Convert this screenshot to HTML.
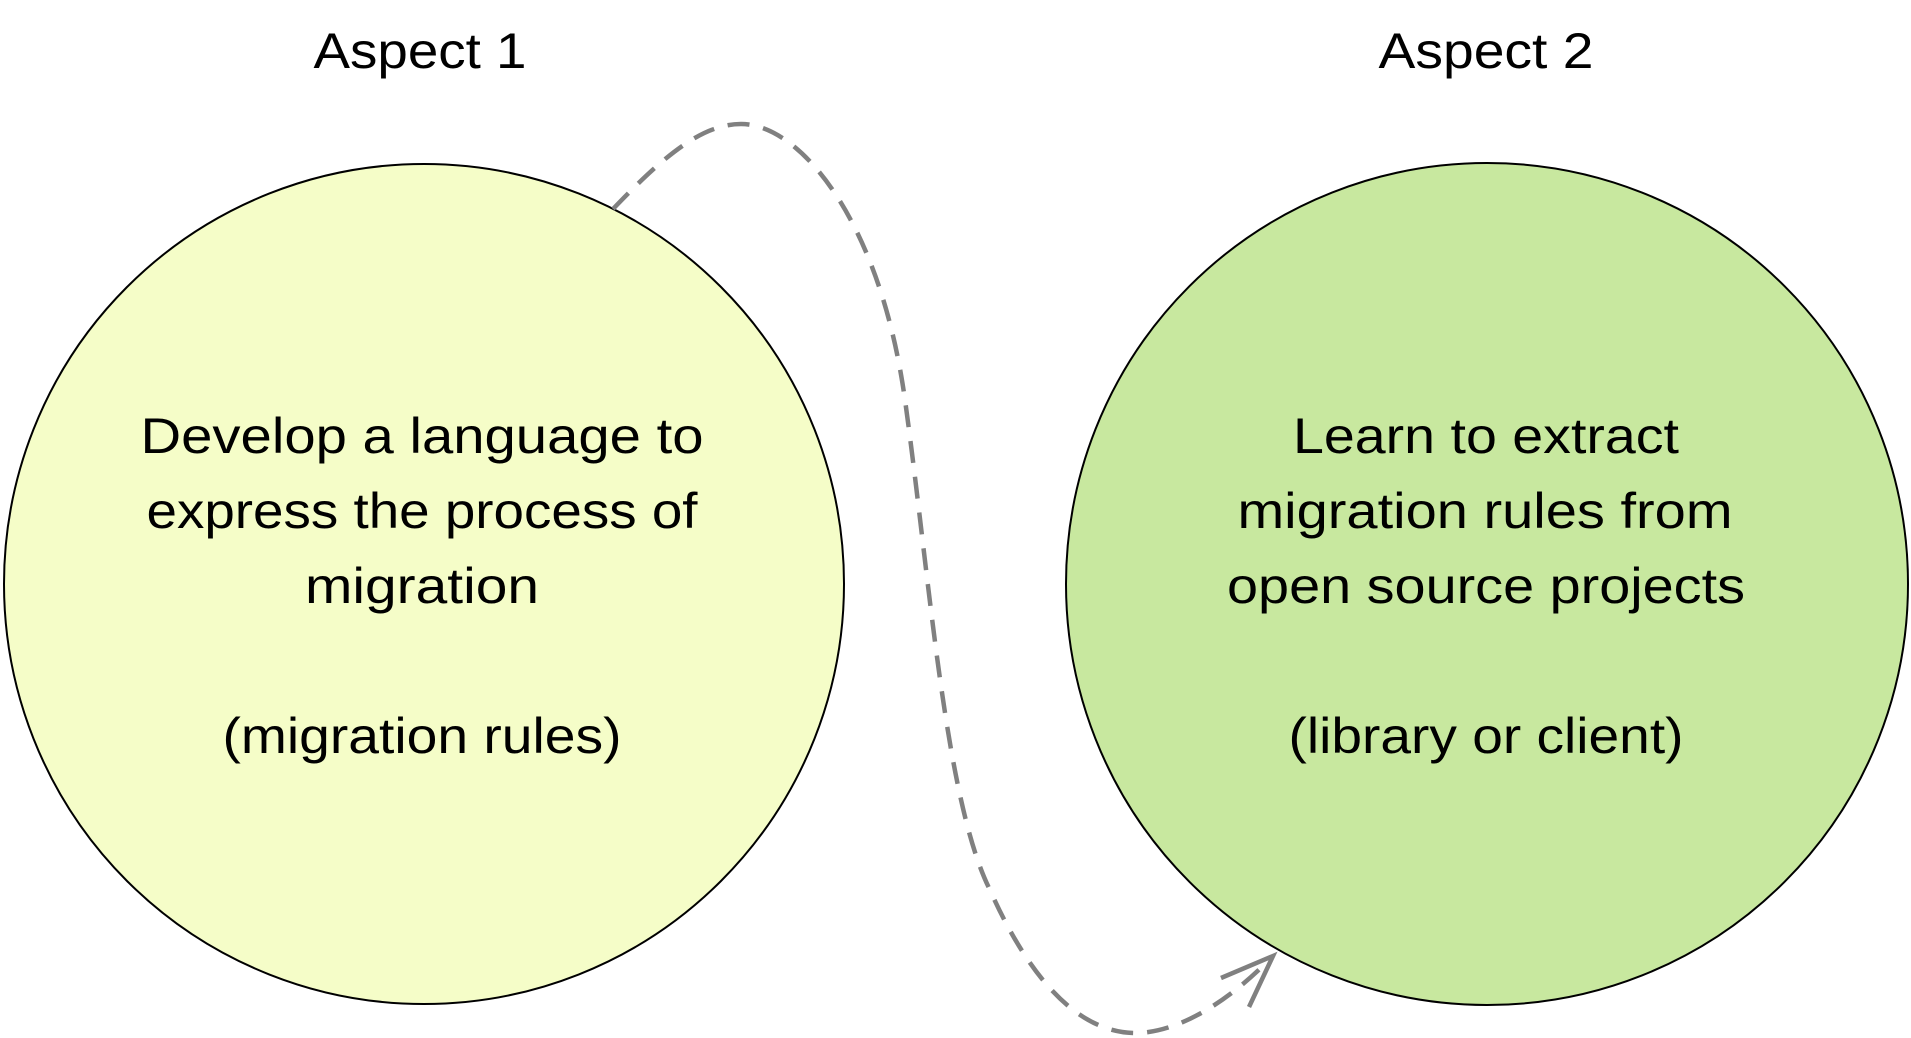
<!DOCTYPE html>
<html><head><meta charset="utf-8"><style>html,body{margin:0;padding:0;background:#fff;}svg{display:block}</style></head>
<body>
<svg width="1911" height="1038" viewBox="0 0 1911 1038" xmlns="http://www.w3.org/2000/svg" font-family="Liberation Sans, sans-serif" fill="#000">
<circle cx="424" cy="584" r="420" fill="#f5fdc8" stroke="#000" stroke-width="2"/>
<circle cx="1487" cy="584" r="421" fill="#c8e89f" stroke="#000" stroke-width="2"/>
<path d="M613,209 C660,160 700,124 741,124 C800,124 880,220 905,400 C930,580 945,800 990,890 C1030,980 1080,1035 1139,1033 C1190,1030 1240,990 1273,956" fill="none" stroke="#808080" stroke-width="4.5" stroke-dasharray="22 14"/>
<path d="M1221,978 L1273,956 L1249,1007" fill="none" stroke="#808080" stroke-width="4.5"/>
<g font-size="50" text-anchor="middle">
<text x="420" y="68" textLength="213" lengthAdjust="spacingAndGlyphs">Aspect 1</text>
<text x="1486" y="68" textLength="215" lengthAdjust="spacingAndGlyphs">Aspect 2</text>
<text x="422" y="453" textLength="563" lengthAdjust="spacingAndGlyphs">Develop a language to</text>
<text x="422" y="528" textLength="551" lengthAdjust="spacingAndGlyphs">express the process of</text>
<text x="422" y="603" textLength="234" lengthAdjust="spacingAndGlyphs">migration</text>
<text x="422" y="753" textLength="399" lengthAdjust="spacingAndGlyphs">(migration rules)</text>
<text x="1486" y="453" textLength="386" lengthAdjust="spacingAndGlyphs">Learn to extract</text>
<text x="1485" y="528" textLength="495" lengthAdjust="spacingAndGlyphs">migration rules from</text>
<text x="1486" y="603" textLength="518" lengthAdjust="spacingAndGlyphs">open source projects</text>
<text x="1486" y="753" textLength="395" lengthAdjust="spacingAndGlyphs">(library or client)</text>
</g>
</svg>
</body></html>
